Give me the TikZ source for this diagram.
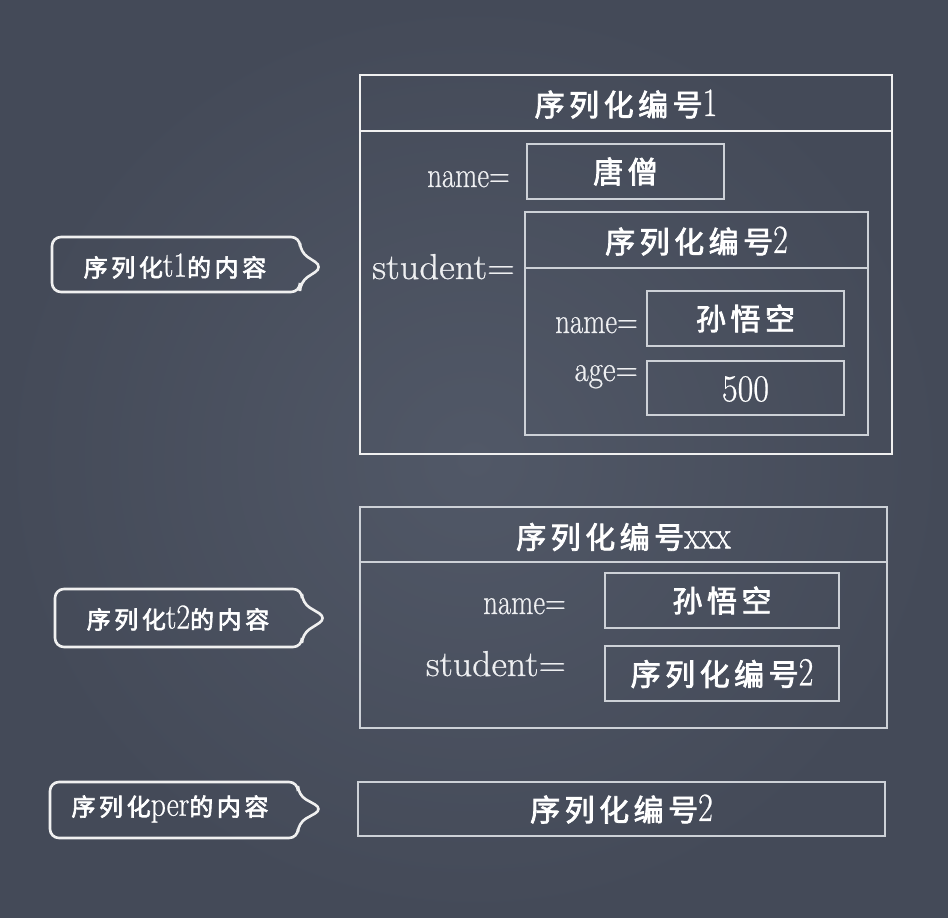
\documentclass[tikz,border=0pt]{standalone}
\usepackage{fontspec}
\usepackage{graphicx}
\newfontfamily\cjk{Noto Sans CJK SC}[LetterSpace=15, FakeBold=2.6]
\newfontfamily\latf{Latin Modern Roman}[FakeBold=0.7]
\definecolor{boardin}{HTML}{515867}
\definecolor{boardout}{HTML}{444A58}
\definecolor{chalk}{HTML}{F0F0F0}
\definecolor{chalkdim}{HTML}{CDD1D7}
\definecolor{labtext}{HTML}{EEEFF1}
\newcommand\cnt[1]{{\cjk #1}}
\newcommand\lt[2][0.8]{\scalebox{#1}[1]{\latf #2}}
\tikzset{
  innerbox/.style={draw=chalkdim, line width=1.3pt},
  outerline/.style={draw=chalk, line width=1.6pt},
  innerline/.style={draw=chalkdim, line width=1.3pt},
  callout/.style={draw=chalk, line width=2.6pt, rounded corners=9pt},
  lab/.style={text=labtext, inner sep=0pt, font=\latf\fontsize{36}{40}\selectfont},
  val/.style={text=white, inner sep=0pt, font=\cjk\fontsize{30}{36}\selectfont},
  ttl/.style={text=white, inner sep=0pt, font=\fontsize{30}{36}\selectfont},
  cal/.style={text=white, inner sep=0pt, font=\fontsize{24}{30}\selectfont},
}
\begin{document}
\begin{tikzpicture}[x=1pt,y=-1pt]
\useasboundingbox (0,0) rectangle (948,918);
\shade[inner color=boardin, outer color=boardout] (0,0) rectangle (948,918);

% ---------- box 1 ----------
\node[draw=chalk, line width=2.2pt, minimum width=532pt, minimum height=379pt] (b1) at (626,264.5) {};
\coordinate (h1) at (0,131);
\draw[outerline] (b1.west |- h1) -- (b1.east |- h1);
\node[ttl] (t1) at (626,104) {\cnt{序列化编号}\lt{\fontsize{40}{44}\selectfont 1}};

\node[innerbox, minimum width=197pt, minimum height=55pt] (n1) at (625.5,171.5) {};
\node[val] (n1v) at (n1.center) {唐僧};
\node[lab, anchor=base east] (n1l) at (510,187) {\lt{name=}};

\node[innerbox, minimum width=343pt, minimum height=223pt] (s1) at (696.5,323.5) {};
\coordinate (h2) at (0,268);
\draw[innerline] (s1.west |- h2) -- (s1.east |- h2);
\node[ttl] (t2) at (696.5,241) {\cnt{序列化编号}\lt{\fontsize{40}{44}\selectfont 2}};
\node[lab, anchor=base east] (s1l) at (515,279) {\lt[1.07]{student=}};

\node[innerbox, minimum width=197pt, minimum height=55pt] (n2) at (745.5,318.5) {};
\node[val] (n2v) at (n2.center) {孙悟空};
\node[lab, anchor=base east] (n2l) at (638,333) {\lt{name=}};

\node[innerbox, minimum width=197pt, minimum height=54pt] (a2) at (745.5,388) {};
\node[lab, font=\latf\fontsize{38}{42}\selectfont, text=white] (a2v) at (745.5,389) {\lt[0.9]{500}};
\node[lab, anchor=base east] (a2l) at (638,381) {\lt[0.86]{age=}};

% ---------- box 2 ----------
\node[draw=chalkdim, line width=1.6pt, minimum width=527pt, minimum height=221pt] (b2) at (623.5,617.5) {};
\coordinate (h3) at (0,562);
\draw[innerline] (b2.west |- h3) -- (b2.east |- h3);
\node[ttl] (t3) at (623.5,537) {\cnt{序列化编号}\lt{\fontsize{40}{44}\selectfont xxx}};

\node[innerbox, minimum width=234pt, minimum height=55pt] (n3) at (722,600.5) {};
\node[val] (n3v) at (n3.center) {孙悟空};
\node[lab, anchor=base east] (n3l) at (566,614) {\lt{name=}};

\node[innerbox, minimum width=234pt, minimum height=55pt] (s3) at (722,673.5) {};
\node[ttl] (s3v) at (s3.center) {\cnt{序列化编号}\lt{\fontsize{40}{44}\selectfont 2}};
\node[lab, anchor=base east] (s3l) at (566,676) {\lt[1.05]{student=}};

% ---------- box 3 ----------
\node[draw=chalkdim, line width=1.6pt, minimum width=527pt, minimum height=54pt] (b3) at (621.5,809) {};
\node[ttl] (t4) at (b3.center) {\cnt{序列化编号}\lt{\fontsize{40}{44}\selectfont 2}};

% ---------- callouts ----------
\draw[callout] (52,237) -- (300,237) -- (300,252) -- (323,267) -- (300,282) -- (300,292) -- (52,292) -- cycle;
\node[cal] (c1) at (175,266) {\cnt{序列化}\lt[0.85]{\fontsize{35}{38}\selectfont t1}\cnt{的内容}};

\draw[callout] (55,589) -- (302,589) -- (302,603) -- (327,618) -- (302,634) -- (302,647) -- (55,647) -- cycle;
\node[cal] (c2) at (178,618) {\cnt{序列化}\lt[0.85]{\fontsize{35}{38}\selectfont t2}\cnt{的内容}};

\draw[callout] (50,782) -- (298,782) -- (298,795) -- (323,809) -- (298,823) -- (298,838) -- (50,838) -- cycle;
\node[cal] (c3) at (170,809) {\cnt{序列化}\lt[0.85]{\fontsize{35}{38}\selectfont per}\cnt{的内容}};
\end{tikzpicture}
\end{document}
